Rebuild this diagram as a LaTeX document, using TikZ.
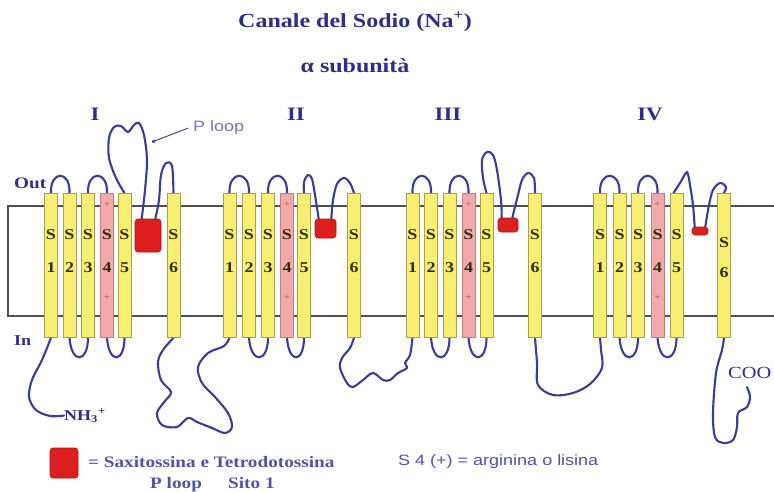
\documentclass[tikz,border=0pt]{standalone}
\usepackage{fontspec}
\setmainfont{Liberation Serif}
\setsansfont{Liberation Sans}
\usetikzlibrary{backgrounds,arrows.meta}
\definecolor{loopc}{HTML}{3B3B98}
\definecolor{titlec}{HTML}{2E2E8A}
\definecolor{legc}{HTML}{5252A8}
\definecolor{helixfill}{HTML}{F7EE72}
\definecolor{helixdraw}{HTML}{A8A050}
\definecolor{pinkfill}{HTML}{F2A9A9}
\definecolor{pinkdraw}{HTML}{C08080}
\definecolor{toxfill}{HTML}{DD1F1F}
\definecolor{toxdraw}{HTML}{A81515}
\definecolor{memc}{HTML}{505050}
\definecolor{labc}{HTML}{2E2E08}
\definecolor{plusc}{HTML}{B05050}
\newcommand{\wtxt}[1]{\scalebox{1.2}[1]{#1}}
\begin{document}
\begin{tikzpicture}[x=1pt,y=-1pt,
 helix/.style={draw=helixdraw, fill=helixfill, line width=0.8pt, minimum width=13pt, minimum height=144pt, inner sep=0pt, anchor=north},
 s4helix/.style={helix, draw=pinkdraw, fill=pinkfill},
 toxin/.style={draw=toxdraw, fill=toxfill, line width=0.6pt, rounded corners=3pt, inner sep=0pt},
 protein/.style={draw=loopc, line width=2.1pt, line cap=round, line join=round},
 membrane/.style={draw=memc, line width=1.5pt},
 hlabel/.style={font=\fontsize{15}{15}\selectfont\bfseries, text=labc, inner sep=0pt},
 plussign/.style={font=\fontsize{10}{10}\selectfont, text=plusc, inner sep=0pt},
 ttl/.style={font=\fontsize{20}{20}\selectfont\bfseries, text=titlec, inner sep=0pt, anchor=base},
 roman/.style={font=\fontsize{19}{19}\selectfont\bfseries, text=titlec, inner sep=0pt, anchor=base},
 side/.style={font=\fontsize{16}{16}\selectfont\bfseries, text=titlec, inner sep=0pt, anchor=base west},
 legserif/.style={font=\fontsize{16}{16}\selectfont\bfseries, text=legc, inner sep=0pt, anchor=base west},
 legsans/.style={font=\fontsize{15}{15}\selectfont\sffamily, text=legc, inner sep=0pt, anchor=base west},
 pointer/.style={draw=memc!80!blue, line width=0.9pt, -{Circle[length=3.5pt]}}
]
\useasboundingbox (0,0) rectangle (774,491);

% helices
\foreach \d/\xa/\xb/\xc/\xd/\xe/\xf in {1/51/69.5/88/107/124.5/173.5, 2/229.5/249/268/287/304/354, 3/412.5/431/449.5/468.5/486.5/535, 4/600/619.5/638/657.5/676.5/724}{
  \node[helix] (h\d1) at (\xa,193) {};
  \node[helix] (h\d2) at (\xb,193) {};
  \node[helix] (h\d3) at (\xc,193) {};
  \node[s4helix] (h\d4) at (\xd,193) {};
  \node[helix] (h\d5) at (\xe,193) {};
  \node[helix] (h\d6) at (\xf,193) {};
  \foreach \i/\xx in {1/\xa,2/\xb,3/\xc,4/\xd,5/\xe}{
    \node[hlabel] (s\d\i) at (\xx,235) {\wtxt{S}};
    \node[hlabel] (n\d\i) at (\xx,268) {\wtxt{\i}};
  }
  \node[plussign] (pa\d) at (\xd,205) {+};
  \node[plussign] (pb\d) at (\xd,298) {+};
}
\foreach \d/\xx in {1/173.5,2/354,3/535}{
  \node[hlabel] (s\d6) at (\xx,235) {\wtxt{S}};
  \node[hlabel] (n\d6) at (\xx,268) {\wtxt{6}};
}
\node[hlabel] (s46) at (724,243) {\wtxt{S}};
\node[hlabel] (n46) at (724,273) {\wtxt{6}};

% toxin sites
\node[toxin, minimum width=26pt, minimum height=33pt] (box1) at (148,235.5) {};
\node[toxin, minimum width=21pt, minimum height=19pt] (box2) at (325.5,228.5) {};
\node[toxin, minimum width=20pt, minimum height=14pt] (box3) at (508,225) {};
\node[toxin, minimum width=16pt, minimum height=8pt] (box4) at (700,231) {};

% terminal labels
\node[side, font=\fontsize{15}{15}\selectfont\bfseries] (nh) at (64,420) {\wtxt{NH\textsubscript{3}\textsuperscript{+}}};
\node[side, font=\fontsize{17}{17}\selectfont] (coo) at (728,378) {\wtxt{COO}};
\coordinate (cterm) at (747,387);

\begin{scope}[on background layer]
\fill[white] (0,0) rectangle (774,491);
\draw[membrane] (774,206) -- (8,206) -- (8,316) -- (774,316);
% short extracellular and intracellular loops
\foreach \d in {1,2,3,4}{
  \draw[protein] (h\d1.north) .. controls +(-1,-23) and +(1,-23) .. (h\d2.north);
  \draw[protein] (h\d3.north) .. controls +(-1,-23) and +(1,-23) .. (h\d4.north);
  \draw[protein] (h\d2.south) .. controls +(2,27) and +(0,25) .. (h\d3.south);
  \draw[protein] (h\d4.south) .. controls +(2,27) and +(0,25) .. (h\d5.south);
}
% P loops
\draw[protein] plot[smooth, tension=0.55] coordinates {(h15.north) (116,178) (109,158) (109,138) (114,127) (121,126) (128,132) (134,125) (139,123) (144,135) (147,160) (145,190) ([xshift=7pt]box1.north west)};
\draw[protein] plot[smooth, tension=0.55] coordinates {([xshift=-6pt]box1.north east) (159,200) (161,175) (166,163) (172,166) (h16.north)};
\draw[protein] plot[smooth, tension=0.55] coordinates {(h25.north) (304,182) (308,175) (312,179) (315,195) ([xshift=4pt]box2.north west)};
\draw[protein] plot[smooth, tension=0.55] coordinates {([xshift=-5pt]box2.north east) (333,200) (337,184) (344,178) (350,183) (h26.north)};
\draw[protein] plot[smooth, tension=0.55] coordinates {(h35.north) (483,178) (482,160) (487,152) (493,155) (497,170) (501,200) ([xshift=4pt]box3.north west)};
\draw[protein] plot[smooth, tension=0.55] coordinates {([xshift=-6pt]box3.north east) (518,195) (522,180) (528,173) (534,178) (h36.north)};
\draw[protein] plot[smooth, tension=0.4] coordinates {([xshift=-3pt]h45.north) (680,183) (687,172) (690,185) (693,205) ([xshift=3pt]box4.north west)};
\draw[protein] plot[smooth, tension=0.55] coordinates {([xshift=-3pt]box4.north east) (709,205) (713,190) (720,183) (726,187) (h46.north)};
% long intracellular loops
\draw[protein] plot[smooth, tension=0.55] coordinates {(h11.south) (42,360) (32,380) (29,397) (36,410) (50,416) (nh.west)};
\draw[protein] plot[smooth, tension=0.55] coordinates {(h16.south) (163,350) (158,362) (161,380) (171,392) (165,401) (157,413) (162,425) (177,427) (188,418) (197,422) (212,428) (225,433) (232,427) (228,413) (215,397) (202,383) (198,367) (208,353) (224,346) (h21.south)};
\draw[protein] plot[smooth, tension=0.55] coordinates {(h26.south) (350,348) (342,358) (340,368) (347,383) (353,387) (363,380) (373,373) (383,380) (390,380) (398,373) (407,368) (405,363) (410,355) (h31.south)};
\draw[protein] plot[smooth, tension=0.55] coordinates {(h36.south) (537,363) (538,385) (553,395) (573,393) (590,384) (602,368) (601,350) (h41.south)};
\draw[protein] plot[smooth, tension=0.55] coordinates {(h46.south) (722,350) (716,373) (713,413) (715,437) (723,443) (733,440) (737,427) (738,413) (747,407) (750,397) (cterm)};
\end{scope}

% texts
\node[ttl] (title) at (355,27) {\wtxt{Canale del Sodio (Na\textsuperscript{+})}};
\node[ttl] (subtitle) at (355,72) {\wtxt{α subunità}};
\node[roman] (dI) at (95,120) {\wtxt{I}};
\node[roman] (dII) at (296,120) {\wtxt{II}};
\node[roman] (dIII) at (448,120) {\wtxt{III}};
\node[roman] (dIV) at (650,120) {\wtxt{IV}};
\node[side] (out) at (14,188) {\wtxt{Out}};
\node[side, font=\fontsize{15}{15}\selectfont\bfseries] (in) at (14,345) {\wtxt{In}};
\node[legsans, text=loopc!70!white] (ploop) at (193,131) {\wtxt{P loop}};
\coordinate (ptip) at (152,142);
\draw[pointer] ([xshift=-5pt,yshift=-1pt]ploop.west) -- (ptip);

% legend
\node[toxin, minimum width=28pt, minimum height=30pt] (legbox) at (64,463) {};
\node[legserif] (legtext) at (88,467) {\wtxt{= Saxitossina e Tetrodotossina}};
\node[legserif] (legploop) at (150,488) {\wtxt{P loop}};
\node[legserif] (legsito) at (228,488) {\wtxt{Sito 1}};
\node[legsans] (legs4) at (398,465) {\wtxt{S 4 (+) = arginina o lisina}};
\end{tikzpicture}
\end{document}
